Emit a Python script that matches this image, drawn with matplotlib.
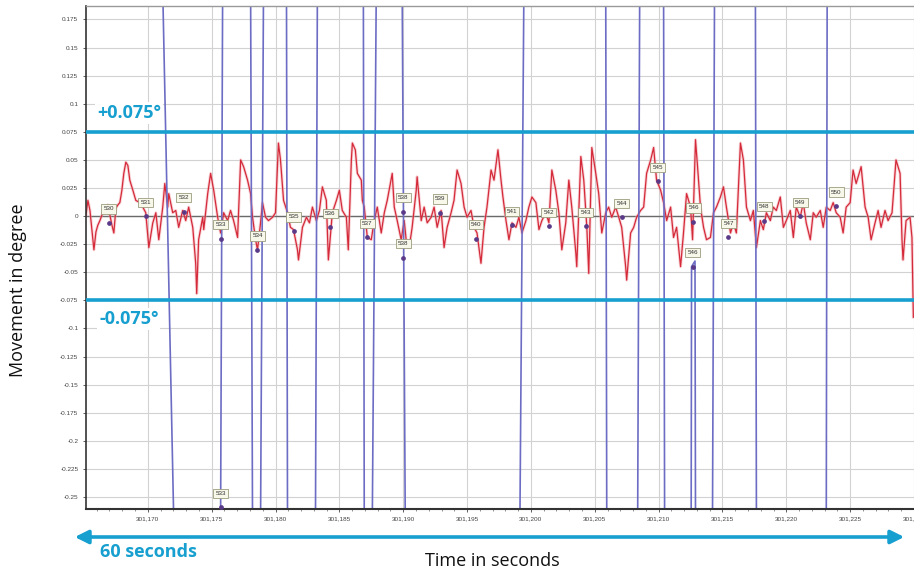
import matplotlib
matplotlib.use("Agg")
import matplotlib.pyplot as plt
from matplotlib.ticker import MultipleLocator, FuncFormatter

# ---------------- data ----------------
T_BASE = 301170  # seconds; all times below are seconds after this

red_t = [
    -4.84, -4.69, -4.53, -4.38, -4.22, -4.06, -3.91, -3.75, -3.59, -3.44,
    -3.28, -3.13, -2.97, -2.81, -2.66, -2.50, -2.34, -2.19, -2.03, -1.88,
    -1.72, -1.56, -1.41, -1.17, -0.94, -0.63, -0.39, -0.16, 0.08, 0.39,
    0.63, 0.86, 1.17, 1.33, 1.56, 1.64, 1.95, 2.19, 2.42, 2.73,
    2.97, 3.20, 3.52, 3.75, 3.83, 3.98, 4.30, 4.38, 4.69, 4.92,
    5.16, 5.47, 5.70, 5.94, 6.25, 6.48, 6.72, 7.03, 7.27, 7.50,
    7.81, 8.05, 8.20, 8.44, 8.59, 8.83, 8.98, 9.22, 9.45, 9.77,
    10.00, 10.23, 10.39, 10.63, 10.94, 11.17, 11.41, 11.72, 11.80, 12.11,
    12.42, 12.66, 12.89, 13.20, 13.44, 13.67, 13.98, 14.14, 14.45, 14.77,
    15.00, 15.23, 15.55, 15.70, 15.94, 16.02, 16.25, 16.41, 16.72, 16.80,
    16.95, 17.19, 17.50, 17.73, 17.97, 18.28, 18.52, 18.75, 19.14, 19.30,
    19.53, 19.84, 20.08, 20.23, 20.47, 20.70, 21.02, 21.09, 21.41, 21.64,
    21.88, 22.19, 22.42, 22.66, 22.97, 23.20, 23.44, 23.75, 23.98, 24.22,
    24.53, 24.77, 25.00, 25.31, 25.55, 25.78, 26.09, 26.33, 26.56, 26.88,
    27.11, 27.42, 27.66, 27.81, 28.05, 28.28, 28.52, 28.83, 29.06, 29.30,
    29.61, 29.84, 30.08, 30.39, 30.63, 30.86, 31.17, 31.41, 31.64, 31.95,
    32.19, 32.42, 32.73, 32.97, 33.20, 33.52, 33.59, 33.91, 34.14, 34.38,
    34.53, 34.77, 35.08, 35.31, 35.55, 35.86, 36.09, 36.33, 36.64, 36.88,
    37.11, 37.42, 37.50, 37.81, 38.05, 38.28, 38.59, 38.83, 39.06, 39.38,
    39.61, 39.84, 40.16, 40.39, 40.63, 40.94, 41.17, 41.41, 41.72, 41.95,
    42.19, 42.50, 42.66, 42.89, 43.05, 43.28, 43.52, 43.75, 44.06, 44.30,
    44.53, 44.84, 45.08, 45.31, 45.63, 45.86, 46.09, 46.41, 46.64, 46.88,
    47.19, 47.42, 47.66, 47.97, 48.20, 48.44, 48.75, 48.98, 49.22, 49.53,
    49.77, 50.00, 50.31, 50.55, 50.78, 51.09, 51.33, 51.56, 51.88, 52.11,
    52.34, 52.66, 52.89, 53.13, 53.44, 53.67, 53.91, 54.22, 54.45, 54.69,
    55.00, 55.23, 55.47, 55.86, 56.17, 56.41, 56.64, 56.95, 57.19, 57.42,
    57.73, 57.97, 58.28, 58.59, 58.91, 59.06, 59.14, 59.38, 59.69, 59.84,
    59.95,
]
red_v = [
    0.001, 0.014, 0.005, -0.012, -0.030, -0.014, -0.008, -0.004, 0.001, 0.007,
    0.005, 0.010, 0.001, -0.008, -0.015, 0.007, 0.010, 0.012, 0.023, 0.038,
    0.048, 0.045, 0.032, 0.023, 0.014, 0.012, 0.008, 0.003, -0.028, -0.006,
    0.003, -0.021, 0.008, 0.029, 0.008, 0.020, 0.003, 0.005, -0.010, 0.005,
    -0.004, 0.008, -0.010, -0.042, -0.069, -0.021, -0.001, -0.012, 0.020, 0.038,
    0.023, -0.001, -0.015, 0.003, -0.004, 0.005, -0.004, -0.019, 0.050, 0.044,
    0.032, 0.020, -0.001, -0.021, -0.030, -0.006, 0.012, -0.001, -0.004, -0.001,
    0.003, 0.065, 0.050, 0.014, 0.003, -0.010, -0.012, -0.030, -0.039, -0.010,
    -0.001, -0.006, 0.008, -0.004, 0.005, 0.026, 0.014, -0.039, 0.003, 0.014,
    0.023, 0.005, -0.001, -0.030, 0.050, 0.065, 0.059, 0.038, 0.032, 0.014,
    0.008, -0.019, -0.021, -0.004, 0.008, -0.015, 0.003, 0.014, 0.038, 0.008,
    -0.004, -0.021, -0.004, -0.021, -0.028, -0.010, 0.023, 0.035, -0.004, 0.008,
    -0.006, -0.001, 0.008, -0.010, 0.005, -0.028, -0.010, 0.003, 0.014, 0.041,
    0.029, 0.008, -0.001, 0.005, -0.010, -0.015, -0.042, -0.010, 0.008, 0.041,
    0.032, 0.059, 0.032, 0.017, -0.004, -0.021, -0.006, -0.010, -0.001, -0.015,
    -0.004, 0.008, 0.017, 0.012, -0.012, -0.004, 0.003, -0.006, 0.041, 0.023,
    0.003, -0.030, -0.006, 0.032, 0.008, -0.033, -0.045, 0.053, 0.032, -0.010,
    -0.051, 0.061, 0.038, 0.020, -0.015, 0.003, 0.008, -0.001, 0.008, -0.001,
    -0.010, -0.045, -0.057, -0.015, -0.010, -0.001, 0.005, 0.008, 0.038, 0.050,
    0.061, 0.032, 0.023, 0.012, -0.004, 0.008, -0.019, -0.010, -0.045, -0.015,
    0.020, 0.008, -0.021, 0.068, 0.044, 0.008, -0.010, -0.021, -0.019, 0.003,
    0.008, 0.017, 0.026, 0.008, -0.015, -0.006, -0.015, 0.065, 0.050, 0.008,
    -0.004, 0.005, -0.028, -0.004, -0.012, 0.003, -0.004, 0.008, 0.005, 0.017,
    -0.010, -0.004, 0.005, -0.019, 0.008, -0.001, 0.012, -0.006, -0.021, 0.003,
    -0.001, 0.005, -0.010, 0.008, 0.005, 0.012, 0.003, -0.001, -0.015, 0.008,
    0.012, 0.041, 0.029, 0.044, 0.008, -0.001, -0.021, -0.006, 0.005, -0.010,
    0.005, -0.004, 0.003, 0.050, 0.038, -0.021, -0.039, -0.004, -0.001, -0.019,
    -0.090,
]

# second (purple) trace: mostly off-scale, crossing the chart as near-vertical lines
purple_t = [
    -4.84, 1.17, 2.03, 5.70, 5.86, 8.05, 8.20, 8.83, 9.06, 10.86,
    10.94, 13.13, 13.28, 16.88, 16.95, 17.58, 17.89, 19.92, 20.16, 29.14,
    29.45, 35.86, 35.94, 38.36, 38.52, 40.39, 40.47, 42.55, 42.58, 42.85,
    42.89, 44.22, 44.38, 47.58, 47.66, 53.13, 53.20, 60.00,
]
purple_v = [
    0.20, 0.20, -0.27, -0.27, 0.20, 0.20, -0.27, -0.27, 0.20, 0.20,
    -0.27, -0.27, 0.20, 0.20, -0.27, -0.27, 0.20, 0.20, -0.27, -0.27,
    0.20, 0.20, -0.27, -0.27, 0.20, 0.20, -0.27, -0.27, -0.045, -0.040,
    -0.27, -0.27, 0.20, 0.20, -0.27, -0.27, 0.20, 0.20,
]

marker_labels = ["530", "531", "532", "533", "534", "535", "536", "537", "538", "538",
                 "539", "540", "541", "542", "543", "544", "545", "546", "546", "547",
                 "548", "549", "550", "533"]
marker_t = [-3.05, -0.16, 2.81, 5.70, 8.59, 11.41, 14.30, 17.19, 20.00, 20.00,
            22.89, 25.70, 28.52, 31.41, 34.30, 37.11, 39.92, 42.73, 42.66, 45.47,
            48.28, 51.09, 53.91, 5.70]
marker_v = [-0.006, 0.000, 0.004, -0.020, -0.030, -0.013, -0.010, -0.019, 0.004, -0.037,
            0.003, -0.020, -0.008, -0.009, -0.009, -0.001, 0.031, -0.005, -0.045, -0.019,
            -0.004, 0.000, 0.009, -0.259]

thresholds = [0.075, -0.075]
threshold_labels = ["+0.075°", "-0.075°"]

x_limits = [T_BASE - 4.84, T_BASE + 60.0]
y_limits = [-0.2607, 0.187]

# ---------------- style ----------------
BLUE = "#169fcf"
RED = "#d42a3a"
PURPLE = "#6c6cc4"
FONT = ["Open Sans", "DejaVu Sans"]
TICKFONT = ["Liberation Sans", "DejaVu Sans"]

fig = plt.figure(figsize=(9.14, 5.73), dpi=100)
ax = fig.add_axes([86 / 914, 64 / 573, 828 / 914, 503 / 573])

ax.set_xlim(*x_limits)
ax.set_ylim(*y_limits)

ax.xaxis.set_major_locator(MultipleLocator(5))
ax.xaxis.set_minor_locator(MultipleLocator(1))
ax.yaxis.set_major_locator(MultipleLocator(0.025))
ax.xaxis.set_major_formatter(FuncFormatter(lambda v, p: f"{v:,.0f}"))


def yfmt(v, p):
    v = round(v, 3)
    if abs(v) < 1e-9:
        return "0"
    return f"{v:g}"


ax.yaxis.set_major_formatter(FuncFormatter(yfmt))
ax.tick_params(axis="both", which="major", labelsize=4.6, colors="#444444",
               length=2.5, width=0.6, pad=3)
ax.tick_params(axis="x", which="minor", length=1.5, width=0.5, colors="#666666")
for lab in ax.get_xticklabels() + ax.get_yticklabels():
    lab.set_family(TICKFONT)

ax.grid(True, which="major", color="#d2d2d2", lw=0.8)
ax.set_axisbelow(True)
ax.axhline(0, color="#6a6a6a", lw=1.0, zorder=1.5)

for s in ["right"]:
    ax.spines[s].set_visible(False)
ax.spines["top"].set_color("#9a9a9a")
ax.spines["top"].set_linewidth(1.0)
ax.spines["left"].set_color("#333333")
ax.spines["left"].set_linewidth(1.2)
ax.spines["bottom"].set_color("#333333")
ax.spines["bottom"].set_linewidth(1.5)

red_x = [T_BASE + t for t in red_t]
ax.plot(red_x, red_v, color="#f2a0a8", lw=2.2, alpha=0.45, zorder=2)
ax.plot(red_x, red_v, color=RED, lw=0.9, zorder=2.1)

purple_x = [T_BASE + t for t in purple_t]
ax.plot(purple_x, purple_v, color=PURPLE, lw=1.2, zorder=2.2)

for lab, t, v in zip(marker_labels, marker_t, marker_v):
    ax.plot(T_BASE + t, v, "o", ms=2.4, color="#5a3a88", zorder=3)
    ax.annotate(lab, (T_BASE + t, v), xytext=(0, 10), textcoords="offset points",
                ha="center", va="center", fontsize=4.5, color="#333333",
                family=TICKFONT, zorder=4,
                bbox=dict(boxstyle="square,pad=0.35", fc="#f7f7ea", ec="#9c9c7e", lw=0.6))

for v, lab in zip(thresholds, threshold_labels):
    ax.axhline(v, color=BLUE, lw=2.6, zorder=3)

ax.text(11 / 828, (509 - 113) / 503, threshold_labels[0], transform=ax.transAxes,
        ha="left", va="center", fontsize=13, fontweight="bold", color=BLUE,
        family=FONT, zorder=5,
        bbox=dict(boxstyle="square,pad=0.1", fc="white", ec="none"))
ax.text(13 / 828, (509 - 319) / 503, threshold_labels[1], transform=ax.transAxes,
        ha="left", va="center", fontsize=13, fontweight="bold", color=BLUE,
        family=FONT, zorder=5,
        bbox=dict(boxstyle="square,pad=0.1", fc="white", ec="none"))

# outer labels
fig.text(18 / 914, 1 - 290 / 573, "Movement in degree", rotation=90,
         ha="center", va="center", fontsize=13, color="#111111", family=FONT)
fig.text(492 / 914, 1 - 561 / 573, "Time in seconds",
         ha="center", va="center", fontsize=13, color="#111111", family=FONT)
fig.text(100 / 914, 1 - 552 / 573, "60 seconds",
         ha="left", va="center", fontsize=13, fontweight="bold", color=BLUE, family=FONT)

fig.patches.append(matplotlib.patches.FancyArrowPatch(
    (72 / 914, 1 - 537 / 573), (907 / 914, 1 - 537 / 573),
    transform=fig.transFigure, arrowstyle="<|-|>,head_length=8,head_width=4",
    color=BLUE, lw=2.6, mutation_scale=1))

fig.savefig("out.png", dpi=100)
